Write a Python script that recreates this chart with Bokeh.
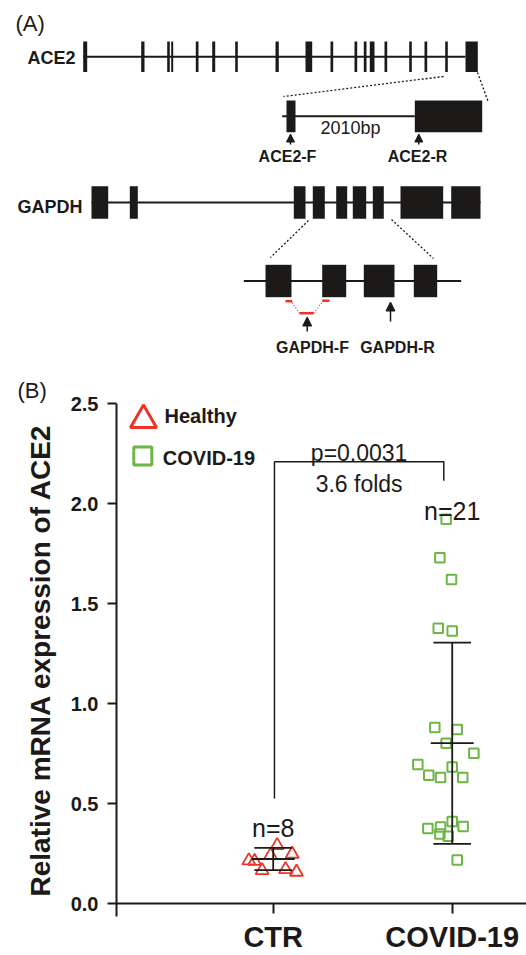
from bokeh.plotting import figure
from bokeh.layouts import column
from bokeh.models import (Range1d, FixedTicker, NumeralTickFormatter, Arrow, NormalHead)
from bokeh.core.properties import value
from bokeh.embed import file_html
from bokeh.resources import INLINE

FONT = "Liberation Sans"
INK = "#1c1a19"
RED = "#ee3224"
GREEN = "#6cb644"

# ---------------- Panel A: gene structures (diagram coordinates) ----------------
ace2_exon_left = [82.7, 140.7, 166.7, 170.7, 195.3, 211.7, 234.7, 275.0, 305.0, 330.0,
                  354.0, 363.3, 369.3, 384.0, 408.7, 424.0, 444.7, 465.0]
ace2_exon_right = [86.7, 144.0, 169.3, 172.7, 198.0, 214.7, 237.3, 278.3, 311.7, 332.7,
                   356.7, 366.0, 374.0, 386.7, 411.3, 426.7, 447.3, 477.3]
ace2_detail_left = [286.0, 414.3]
ace2_detail_right = [295.0, 481.7]
gapdh_exon_left = [91.0, 129.3, 293.3, 312.3, 335.7, 352.3, 372.3, 400.0, 450.7]
gapdh_exon_right = [107.7, 137.3, 305.0, 324.3, 346.7, 365.7, 383.3, 442.7, 480.0]
gapdh_detail_left = [265.0, 321.7, 363.3, 413.3]
gapdh_detail_right = [291.0, 345.7, 394.0, 436.7]
primer_names = ["ACE2-F", "ACE2-R", "GAPDH-F", "GAPDH-R"]
amplicon_text = "2010bp"

# ---------------- Panel B data ----------------
groups = ["CTR", "COVID-19"]
group_pos = [1, 2]
legend_labels = ["Healthy", "COVID-19"]
ctr_values = [0.291, 0.241, 0.248, 0.215, 0.212, 0.166, 0.171, 0.158]
ctr_jitter = [0.022, -0.015, 0.106, -0.136, -0.104, -0.062, 0.069, 0.130]
covid_values = [1.921, 1.729, 1.620, 1.376, 1.363, 0.881, 0.870, 0.802, 0.752, 0.695,
                0.683, 0.642, 0.630, 0.630, 0.411, 0.375, 0.383, 0.386, 0.348, 0.337, 0.218]
covid_jitter = [-0.034, -0.069, -0.004, -0.078, 0.0, -0.097, 0.028, -0.034, 0.121, -0.192,
                0.0, -0.131, -0.065, 0.059, 0.0, -0.136, -0.065, 0.061, -0.069, -0.022, 0.028]
group_mean = [0.223, 0.802]
group_sd = [0.056, 0.503]
n_labels = ["n=8", "n=21"]
n_label_y = [0.378, 1.962]
p_text = "p=0.0031"
fold_text = "3.6 folds"
bracket_y = [0.526, 2.209, 2.114]   # left leg bottom, top, right leg bottom
y_ticks = [0.0, 0.5, 1.0, 1.5, 2.0, 2.5]

# =============== Panel A figure ===============
top = figure(width=526, height=370, x_range=Range1d(0, 526), y_range=Range1d(370, 0),
             output_backend="svg", toolbar_location=None,
             x_axis_location=None, y_axis_location=None, min_border=0,
             outline_line_color=None)
top.grid.visible = False


def gene_row(left, right, yc, h, x0=None, x1=None):
    x0 = min(left) if x0 is None else x0
    x1 = max(right) if x1 is None else x1
    top.line([x0, x1], [yc, yc], line_width=2, color=INK)
    top.quad(left=left, right=right, top=[yc - h / 2] * len(left),
             bottom=[yc + h / 2] * len(left), fill_color=INK, line_color=None)


gene_row(ace2_exon_left, ace2_exon_right, 56.2, 30.5, x1=ace2_exon_left[-1])
gene_row(ace2_detail_left, ace2_detail_right, 115.8, 31.7, x0=281.7, x1=414.3)
gene_row(gapdh_exon_left, gapdh_exon_right, 202.0, 32.6)
gene_row(gapdh_detail_left, gapdh_detail_right, 280.5, 32.4, x0=243.3, x1=460.7)

# zoom guide lines
top.segment(x0=[443, 477, 308, 391], y0=[76, 72, 220, 219],
            x1=[283, 488, 270, 433], y1=[96, 102, 257, 258],
            line_dash="2 2", line_width=1.3, color=INK)

# primer marks (GAPDH-F spans exon junction)
top.segment(x0=[285, 321.7, 299], y0=[300.7, 300.2, 312.7],
            x1=[291.7, 329, 313.3], y1=[300.7, 300.2, 312.7],
            line_width=2.5, color=RED)
top.segment(x0=[291.7, 313.3], y0=[302, 312.7], x1=[299, 321.7], y1=[312.7, 301.5],
            line_width=1.2, color=RED, line_dash="1 2")

for (ax, ay0, ay1, hs) in [(290, 144, 133.5, 8), (418.3, 144, 133.5, 8),
                           (306.7, 331, 316.5, 9), (390, 321, 301.5, 9)]:
    top.add_layout(Arrow(end=NormalHead(size=hs, fill_color=INK, line_color=INK, line_width=1),
                         x_start=ax, y_start=ay0, x_end=ax, y_end=ay1,
                         line_width=1.5, line_color=INK))

top.text(x=[15], y=[23], text=["(A)"], text_font=value(FONT), text_font_size="22px",
         text_align="left", text_baseline="middle", color=INK)
top.text(x=[27, 17], y=[57, 206], text=["ACE2", "GAPDH"], text_font=value(FONT),
         text_font_size="18px", text_font_style="bold", text_align="left",
         text_baseline="middle", color=INK)
top.text(x=[350], y=[127.5], text=[amplicon_text], text_font=value(FONT),
         text_font_size="18px", text_align="center", text_baseline="middle", color=INK)
top.text(x=[287, 417, 312, 397], y=[156, 156, 347, 347], text=primer_names,
         text_font=value(FONT), text_font_size="16px", text_font_style="bold",
         text_align="center", text_baseline="middle", color=INK)

# =============== Panel B figure ===============
bot = figure(width=526, height=585, x_range=Range1d(0.1246, 2.415),
             y_range=Range1d(-0.0644, 2.5), output_backend="svg", toolbar_location=None,
             min_border_left=116, min_border_right=0, min_border_top=33,
             min_border_bottom=34, outline_line_color=None)
bot.grid.visible = False

bot.title.text = "(B)"
bot.title.align = "left"
bot.title.offset = -99
bot.title.standoff = 2
bot.title.text_font = FONT
bot.title.text_font_size = "22px"
bot.title.text_font_style = "normal"
bot.title.text_color = INK

yax = bot.yaxis[0]
yax.ticker = FixedTicker(ticks=y_ticks)
yax.formatter = NumeralTickFormatter(format="0.0")
yax.axis_line_width = 2
yax.axis_line_color = INK
yax.major_tick_out = 9
yax.major_tick_in = 0
yax.major_tick_line_width = 2
yax.major_tick_line_color = INK
yax.minor_tick_out = 0
yax.minor_tick_in = 0
yax.major_label_standoff = 9
yax.major_label_text_font = FONT
yax.major_label_text_font_size = "20px"
yax.major_label_text_font_style = "bold"
yax.major_label_text_color = INK
yax.axis_label = "Relative mRNA expression of ACE2"
yax.axis_label_text_font = FONT
yax.axis_label_text_font_size = "28px"
yax.axis_label_text_font_style = "bold"
yax.axis_label_text_color = INK
yax.axis_label_standoff = 12

xax = bot.xaxis[0]
xax.ticker = FixedTicker(ticks=group_pos)
xax.axis_line_color = None
xax.major_tick_in = 13
xax.major_tick_out = -3
xax.major_tick_line_width = 2
xax.major_tick_line_color = INK
xax.minor_tick_in = 0
xax.minor_tick_out = 0
xax.major_label_overrides = {g: name for g, name in zip(group_pos, groups)}
xax.major_label_text_font = FONT
xax.major_label_text_font_size = "29px"
xax.major_label_text_font_style = "bold"
xax.major_label_text_color = INK
xax.major_label_standoff = 4

# x axis line at y = 0
bot.add_layout(Arrow(end=None, x_start=0.0352, y_start=0, x_end=2.415, y_end=0,
                     line_width=2, line_color=INK))

# data points
bot.scatter(x=[group_pos[0] + j for j in ctr_jitter], y=ctr_values, marker="triangle",
            size=13, line_color=RED, line_width=1.8, fill_color=None)
bot.scatter(x=[group_pos[1] + j for j in covid_jitter], y=covid_values, marker="square",
            size=9.5, line_color=GREEN, line_width=2, fill_color=None)

# mean +/- SD
lo = [m - s for m, s in zip(group_mean, group_sd)]
hi = [m + s for m, s in zip(group_mean, group_sd)]
bot.segment(x0=group_pos, y0=lo, x1=group_pos, y1=hi, line_width=1.8, color=INK)
bot.segment(x0=[g - 0.105 for g in group_pos] * 2, y0=lo + hi,
            x1=[g + 0.105 for g in group_pos] * 2, y1=lo + hi, line_width=1.8, color=INK)
bot.segment(x0=[g - 0.12 for g in group_pos], y0=group_mean,
            x1=[g + 0.12 for g in group_pos], y1=group_mean, line_width=1.8, color=INK)

# significance bracket
bx0, bx1 = group_pos[0] + 0.007, group_pos[1] - 0.047
bot.line(x=[bx0, bx0, bx1, bx1], y=[bracket_y[0], bracket_y[1], bracket_y[1], bracket_y[2]],
         line_width=1.5, color=INK)
bmid = (bx0 + bx1) / 2
bot.text(x=[bmid, bmid], y=[2.251, 2.097], text=[p_text, fold_text], text_font=value(FONT),
         text_font_size="23px", text_align="center", text_baseline="alphabetic", color=INK)
bot.text(x=group_pos, y=n_label_y, text=n_labels, text_font=value(FONT),
         text_font_size="25px", text_align="center", text_baseline="alphabetic", color=INK)

# legend
bot.scatter(x=[0.2754], y=[2.418], marker="triangle", size=26, line_width=3,
            line_color=RED, fill_color=None)
bot.scatter(x=[0.2715], y=[2.238], marker="square", size=18, line_width=3,
            line_color=GREEN, fill_color=None)
bot.text(x=[0.3928, 0.3833], y=[2.436, 2.226], text=legend_labels, text_font=value(FONT),
         text_font_size="20px", text_font_style="bold", text_align="left",
         text_baseline="middle", color=INK)

for f in (top, bot):
    try:
        f.frame_align = False
    except Exception:
        pass

layout = column(top, bot)
open("out.html", "w").write(file_html(layout, INLINE))
